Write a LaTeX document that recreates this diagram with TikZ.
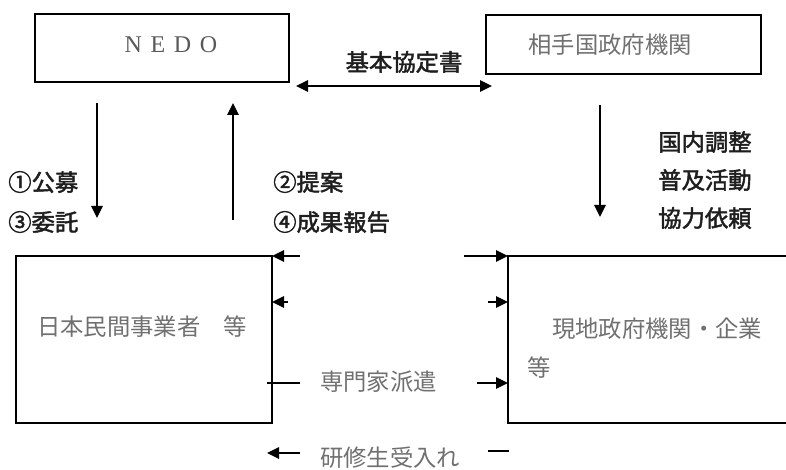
\documentclass[tikz,border=0pt]{standalone}
\usepackage{fontspec}
\setmainfont{Liberation Serif}
\newfontfamily\cjk{Noto Sans CJK JP}
\newfontfamily\cjkb{Noto Sans CJK JP}[FakeBold=2]
\usetikzlibrary{arrows.meta,fit}
\definecolor{txtgray}{RGB}{112,112,112}
\definecolor{lblcol}{RGB}{30,30,30}
\begin{document}
\begin{tikzpicture}[x=0.75pt,y=-0.75pt,
  box/.style={draw, line width=2.2pt, inner sep=0pt},
  arr/.style={line width=1.6pt, -{Triangle[length=9pt,width=8.5pt]}},
  darr/.style={line width=1.6pt, {Triangle[length=9pt,width=8.5pt]}-{Triangle[length=9pt,width=8.5pt]}},
  plainline/.style={line width=1.6pt},
  lbl/.style={font=\cjkb\fontsize{17.5}{20}\selectfont, text=lblcol, inner sep=0pt},
  boxtxt/.style={font=\cjk\fontsize{17.5}{20}\selectfont, text=txtgray, inner sep=0pt}]
\useasboundingbox (0,0) rectangle (786,470);

% boxes
\node[box, fit={(35,14) (289,82)}] (nedo) {};
\node[box, fit={(486,15) (761,74)}] (partner) {};
\node[box, fit={(16,256) (272,423)}] (jp) {};
\node[box, fit={(508,256) (795,423)}] (local) {};

% box texts
\node[font=\fontsize{18}{20}\selectfont, text=black!65, inner sep=0pt] (nedotxt) at (171,45) {N\hspace{6.5pt}E\hspace{6.5pt}D\hspace{6.5pt}O};
\node[boxtxt] (partnertxt) at (610,45) {相手国政府機関};
\node[boxtxt, anchor=west] (jptxt) at (37,327) {日本民間事業者　等};
\node[boxtxt, anchor=west] (localtxt) at (552,329) {現地政府機関・企業};
\node[boxtxt, anchor=west] (localtxt2) at (527,368) {等};

% agreement
\coordinate (ag1) at (296,86);
\coordinate (ag2) at (492,86);
\draw[darr] (ag1) -- (ag2);
\node[lbl] (agtxt) at (404,62) {基本協定書};

% vertical arrows
\coordinate (v1a) at (97,103);  \coordinate (v1b) at (97,218);
\coordinate (v2a) at (233,220); \coordinate (v2b) at (233,103);
\coordinate (v3a) at (600,105); \coordinate (v3b) at (600,217);
\draw[arr] (v1a) -- (v1b);
\draw[arr] (v2a) -- (v2b);
\draw[arr] (v3a) -- (v3b);

\node[lbl, anchor=west] (l1) at (8,182) {①公募};
\node[lbl, anchor=west] (l3) at (8,222) {③委託};
\node[lbl, anchor=west] (l2) at (273,182) {②提案};
\node[lbl, anchor=west] (l4) at (273,222) {④成果報告};
\node[lbl, anchor=west] (r1) at (658,142) {国内調整};
\node[lbl, anchor=west] (r2) at (658,180) {普及活動};
\node[lbl, anchor=west] (r3) at (658,218) {協力依頼};

% lower connectors
\coordinate (a1) at (300,256); \coordinate (a1t) at (272,256);
\coordinate (b1) at (464,256); \coordinate (b1t) at (508,256);
\coordinate (a2) at (288,302); \coordinate (a2t) at (272,302);
\coordinate (b2) at (488,302); \coordinate (b2t) at (508,302);
\coordinate (a3) at (300,383); \coordinate (a3t) at (267,383);
\coordinate (b3) at (477,383); \coordinate (b3t) at (508,383);
\coordinate (a4) at (300,453); \coordinate (a4t) at (267,453);
\coordinate (b4) at (488,451); \coordinate (b4t) at (509,451);
\draw[arr] (a1) -- (a1t);
\draw[arr] (b1) -- (b1t);
\draw[arr] (a2) -- (a2t);
\draw[arr] (b2) -- (b2t);
\draw[plainline] (a3) -- (a3t);
\draw[arr] (b3) -- (b3t);
\draw[arr] (a4) -- (a4t);
\draw[plainline] (b4) -- (b4t);

\node[boxtxt, anchor=west] (sen) at (320,382) {専門家派遣};
\node[boxtxt, anchor=west] (ken) at (320,458) {研修生受入れ};
\end{tikzpicture}
\end{document}
